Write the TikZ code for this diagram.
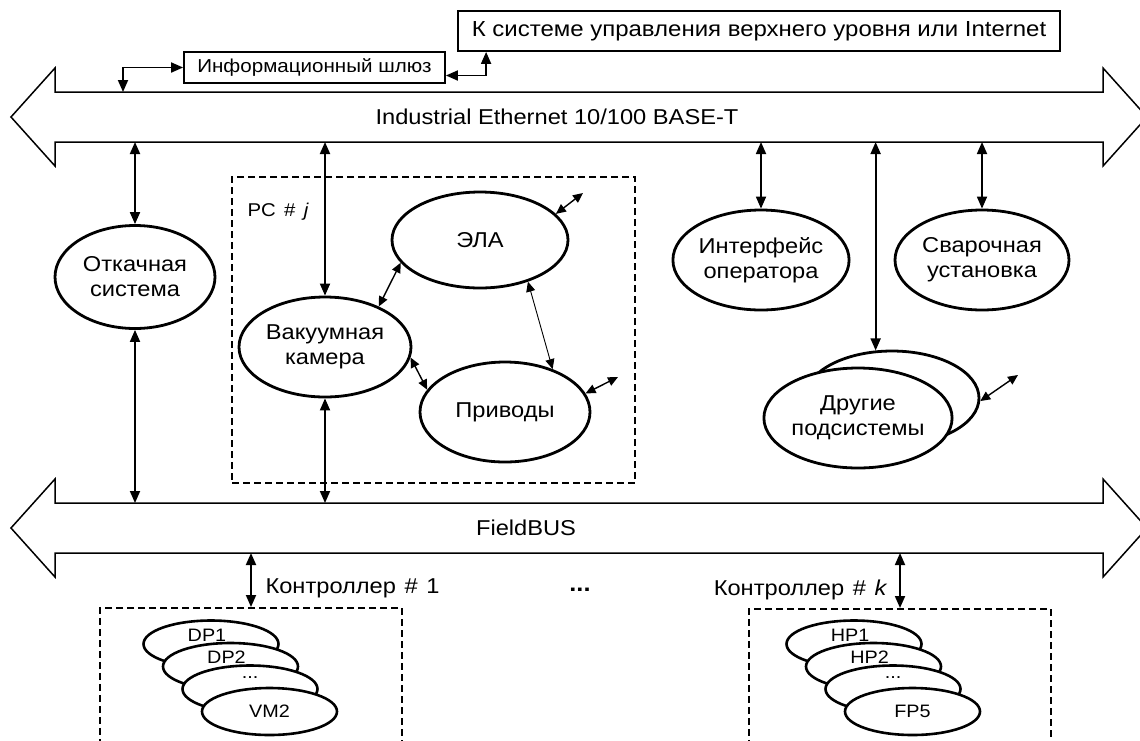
\documentclass[tikz,border=0pt]{standalone}
\usepackage{fontspec}
\setmainfont{Liberation Sans}[FakeStretch=1.1]
\usetikzlibrary{shapes.geometric, arrows.meta, positioning}

\begin{document}
\begin{tikzpicture}[x=1pt, y=-1pt, font={\fontsize{21.5}{25}\selectfont},
    >={Triangle[length=12pt, width=10pt]},
    sys/.style = {draw, ellipse, line width=2.8pt, align=center, inner sep=0pt, fill=white},
    pcbox/.style = {draw, dashed, dash pattern=on 7pt off 4pt, line width=1.7pt, inner sep=0pt},
    bus/.style = {draw, line width=1.5pt},
    link/.style = {<->, line width=1.8pt},
    slink/.style = {<->, line width=1.4pt, >={Triangle[length=10pt, width=9pt]}},
    tag/.style = {font={\fontsize{18}{20}\selectfont}},
    stk/.style = {draw, ellipse, fill=white, line width=2.6pt, minimum width=135pt, minimum height=47pt, inner sep=0pt, tag},
    node distance = 22.5pt and 19.5pt]
    \useasboundingbox (0,0) rectangle (1140,740);
    \clip (0,0) rectangle (1140,740);

    % buses
    \draw[bus] (11,117) -- (55,68) -- (55,92) -- (1103,92) -- (1103,68) -- (1147,117)
        -- (1103,166) -- (1103,142) -- (55,142) -- (55,166) -- cycle;
    \node (eth) at (557,117) {Industrial Ethernet 10/100 BASE-T};
    \draw[bus] (11,528) -- (55,479) -- (55,503) -- (1103,503) -- (1103,479) -- (1147,528)
        -- (1103,577) -- (1103,553) -- (55,553) -- (55,577) -- cycle;
    \node (fb) at (526,528) {FieldBUS};
    \coordinate (ethbot) at (0,142);
    \coordinate (fbtop) at (0,503);
    \coordinate (fbbot) at (0,553);
    \coordinate (gwbus) at (123,92);

    % upper level
    \node[draw, line width=1.8pt, minimum width=602pt, minimum height=40pt,
        font={\fontsize{21.8}{26}\selectfont}] (up) at (759,31)
        {К системе управления верхнего уровня или Internet};
    \node[draw, line width=1.8pt, minimum width=261pt, minimum height=31pt,
        font={\fontsize{18.7}{22}\selectfont}] (gw) at (314.5,67.5) {Информационный шлюз};
    \draw[link] (gwbus) |- (gw.west);
    \draw[link] ([yshift=-8pt]gw.east) -| ([xshift=29pt]up.south west);

    % PC #j
    \node[pcbox, minimum width=403pt, minimum height=306pt] (pc) at (433.5,330) {};
    \node[anchor=west, font={\fontsize{18.5}{22}\selectfont}] (pclab) at (244,212)
        {PC\hspace{0.45em}\#\hspace{0.45em}\textit{j}};
    \node[sys, minimum width=176pt, minimum height=96pt] (ela) at (480,240) {ЭЛА};
    \node[sys, minimum width=172pt, minimum height=100pt] (vak) at (325,347) {Вакуумная\\камера};
    \node[sys, minimum width=170pt, minimum height=100pt] (pri) at (505,412) {Приводы};

    % other subsystems
    \node[sys, minimum width=160pt, minimum height=103pt] (otk) at (135,277) {Откачная\\система};
    \node[sys, minimum width=175pt, minimum height=100pt] (int) at (761,260) {Интерфейс\\оператора};
    \node[sys, minimum width=174pt, minimum height=100pt] (sva) at (982,260) {Сварочная\\установка};
    \node[sys, minimum width=174pt, minimum height=94pt] (drb) at (892,398) {};
    \node[sys, minimum width=174pt, minimum height=100pt] (dr) at (858,418) {Другие\\подсистемы};

    \draw[link] (otk.north) -- (otk.north |- ethbot);
    \draw[link] (otk.south) -- (otk.south |- fbtop);
    \draw[link] (vak.north) -- (vak.north |- ethbot);
    \draw[link] (vak.south) -- (vak.south |- fbtop);
    \draw[link] (int.north) -- (int.north |- ethbot);
    \draw[link] (sva.north) -- (sva.north |- ethbot);
    \draw[link] (drb.109) -- (drb.109 |- ethbot);

    \coordinate (elaout) at (583,193);
    \coordinate (priout) at (618,377);
    \coordinate (drout) at (1018,375);
    \draw[slink] (ela.196) -- (vak.37);
    \draw[slink, line width=0.9pt] (ela.-41) -- (pri.42);
    \draw[slink] (vak.-7) -- (pri.164);
    \draw[slink] (ela.19) -- (elaout);
    \draw[slink] (pri.13) -- (priout);
    \draw[slink] (drb.-2) -- (drout);

    % controllers
    \node[pcbox, minimum width=302pt, minimum height=200pt, anchor=north] (c1) at (251,607) {};
    \node[pcbox, minimum width=302pt, minimum height=200pt, anchor=north] (ck) at (900,608) {};
    \draw[link] (c1.north) -- (c1.north |- fbbot);
    \draw[link] (ck.north) -- (ck.north |- fbbot);
    \node[anchor=west] (c1lab) at (262,588) {Контроллер\hspace{0.4em}\#\hspace{0.4em}1};
    \node[anchor=east] (cklab) at (891,590) {Контроллер\hspace{0.4em}\#\hspace{0.4em}\textit{k}};
    \node[font={\fontsize{23}{26}\selectfont}] (gap) at (580,590) {\textbf{...}};

    \node[stk] (dp1) at (211,644) {};
    \node[tag] at ([xshift=-4pt, yshift=9pt]dp1) {DP1};
    \node[stk, on grid, below right=of dp1] (dp2) {};
    \node[tag] at ([xshift=-4pt, yshift=9pt]dp2) {DP2};
    \node[stk, on grid, below right=of dp2] (dp3) {};
    \node[tag] at ([yshift=11pt]dp3) {...};
    \node[stk, on grid, below right=of dp3] (vm2) {VM2};

    \node[stk] (hp1) at (854,644) {};
    \node[tag] at ([xshift=-4pt, yshift=9pt]hp1) {HP1};
    \node[stk, on grid, below right=of hp1] (hp2) {};
    \node[tag] at ([xshift=-4pt, yshift=9pt]hp2) {HP2};
    \node[stk, on grid, below right=of hp2] (hp3) {};
    \node[tag] at ([yshift=11pt]hp3) {...};
    \node[stk, on grid, below right=of hp3] (fp5) {FP5};
\end{tikzpicture}
\end{document}
